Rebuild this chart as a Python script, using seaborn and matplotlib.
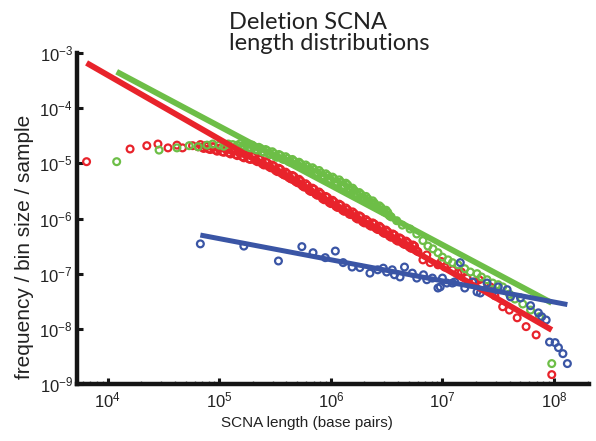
import numpy as np
import pandas as pd
import matplotlib
matplotlib.use("Agg")
import matplotlib.pyplot as plt
from matplotlib import font_manager
from matplotlib.ticker import FixedLocator, LogLocator, NullLocator
import seaborn as sns

# Binned deletion SCNA lengths: log10(length in bp) and log10(frequency / bin size / sample)
red_len_exp = [
    3.81, 4.20, 4.35, 4.45, 4.54, 4.62, 4.67, 4.76, 4.81,
    4.83, 4.845, 4.86, 4.875, 4.89, 4.905, 4.92, 4.935, 4.95, 4.965,
    4.98, 4.995, 5.01, 5.025, 5.04, 5.055, 5.07, 5.085, 5.10, 5.115,
    5.13, 5.145, 5.16, 5.175, 5.19, 5.205, 5.22, 5.235, 5.25, 5.265,
    5.28, 5.295, 5.31, 5.325, 5.34, 5.355, 5.37, 5.385, 5.40, 5.415,
    5.43, 5.445, 5.46, 5.475, 5.49, 5.505, 5.52, 5.535, 5.55, 5.565,
    5.58, 5.595, 5.61, 5.625, 5.64, 5.655, 5.67, 5.685, 5.70, 5.715,
    5.73, 5.745, 5.76, 5.775, 5.79, 5.805, 5.82, 5.835, 5.85, 5.865,
    5.88, 5.895, 5.91, 5.925, 5.94, 5.955, 5.97, 5.985, 6.00, 6.015,
    6.03, 6.045, 6.06, 6.075, 6.09, 6.105, 6.12, 6.135, 6.15, 6.165,
    6.18, 6.195, 6.21, 6.225, 6.24, 6.255, 6.27, 6.285, 6.30, 6.315,
    6.33, 6.345, 6.36, 6.375, 6.39, 6.405, 6.42, 6.435, 6.45, 6.465,
    6.48, 6.495, 6.51, 6.525, 6.54, 6.555, 6.57, 6.585, 6.60, 6.615,
    6.63, 6.645, 6.66, 6.675, 6.69, 6.705, 6.72, 6.735, 6.75, 6.765,
    6.78,
    6.825, 6.86, 6.89, 6.96, 6.99, 7.02, 7.09, 7.14, 7.17, 7.22, 7.29,
    7.33, 7.35, 7.41, 7.43, 7.47, 7.54, 7.60, 7.67, 7.75, 7.84, 7.98,
]
red_freq_exp = [
    -4.97, -4.74, -4.68, -4.65, -4.72, -4.67, -4.72, -4.68, -4.70,
    -4.66, -4.71, -4.73, -4.68, -4.69, -4.74, -4.75, -4.70, -4.70, -4.76,
    -4.78, -4.73, -4.72, -4.79, -4.80, -4.74, -4.75, -4.81, -4.83, -4.77,
    -4.78, -4.84, -4.86, -4.80, -4.81, -4.88, -4.90, -4.84, -4.85, -4.92,
    -4.93, -4.87, -4.88, -4.95, -4.97, -4.91, -4.93, -5.01, -5.03, -4.97,
    -4.99, -5.06, -5.08, -5.03, -5.05, -5.13, -5.15, -5.09, -5.11, -5.19,
    -5.21, -5.16, -5.19, -5.26, -5.28, -5.22, -5.24, -5.33, -5.35, -5.29,
    -5.32, -5.41, -5.43, -5.37, -5.40, -5.49, -5.51, -5.45, -5.47, -5.56,
    -5.58, -5.52, -5.55, -5.64, -5.66, -5.60, -5.62, -5.71, -5.73, -5.67,
    -5.70, -5.78, -5.80, -5.74, -5.76, -5.85, -5.87, -5.81, -5.84, -5.92,
    -5.93, -5.88, -5.91, -5.99, -6.01, -5.95, -5.97, -6.06, -6.08, -6.02,
    -6.05, -6.12, -6.14, -6.08, -6.10, -6.18, -6.20, -6.14, -6.17, -6.25,
    -6.27, -6.21, -6.24, -6.32, -6.34, -6.28, -6.30, -6.39, -6.41, -6.35,
    -6.37, -6.45, -6.47, -6.41, -6.44, -6.52, -6.54, -6.48, -6.50, -6.58,
    -6.60,
    -6.75, -6.66, -6.80, -6.84, -6.78, -6.88, -6.93, -6.99, -6.97, -7.08, -7.15,
    -7.11, -7.20, -7.29, -7.24, -7.40, -7.60, -7.66, -7.80, -7.96, -8.11, -8.83,
]

green_len_exp = [
    4.08, 4.46, 4.62, 4.73, 4.81, 4.89, 4.94, 5.00, 5.04, 5.08, 5.12, 5.16,
    5.19, 5.205, 5.22, 5.235, 5.25, 5.265, 5.28, 5.295, 5.31, 5.325,
    5.34, 5.355, 5.37, 5.385, 5.40, 5.415, 5.43, 5.445, 5.46, 5.475,
    5.49, 5.505, 5.52, 5.535, 5.55, 5.565, 5.58, 5.595, 5.61, 5.625,
    5.64, 5.655, 5.67, 5.685, 5.70, 5.715, 5.73, 5.745, 5.76, 5.775,
    5.79, 5.805, 5.82, 5.835, 5.85, 5.865, 5.88, 5.895, 5.91, 5.925,
    5.94, 5.955, 5.97, 5.985, 6.00, 6.015, 6.03, 6.045, 6.06, 6.075,
    6.09, 6.105, 6.12, 6.135, 6.15, 6.165, 6.18, 6.195, 6.21, 6.225,
    6.24, 6.255, 6.27, 6.285, 6.30, 6.315, 6.33, 6.345, 6.36, 6.375,
    6.39, 6.405, 6.42, 6.435, 6.45, 6.465, 6.48, 6.495, 6.51, 6.525,
    6.54, 6.59, 6.64, 6.71, 6.77,
    6.825, 6.87, 6.915, 6.96, 7.00, 7.05, 7.09, 7.14, 7.20, 7.25, 7.31,
    7.35, 7.40, 7.45, 7.50, 7.54, 7.60, 7.65, 7.72, 7.79, 7.87, 7.98,
]
green_freq_exp = [
    -4.97, -4.76, -4.72, -4.68, -4.70, -4.67, -4.65, -4.67, -4.69, -4.65, -4.66, -4.67,
    -4.64, -4.68, -4.70, -4.65, -4.66, -4.71, -4.72, -4.67, -4.70, -4.75,
    -4.76, -4.71, -4.73, -4.79, -4.80, -4.75, -4.77, -4.83, -4.84, -4.79,
    -4.82, -4.88, -4.89, -4.84, -4.86, -4.92, -4.93, -4.88, -4.91, -4.97,
    -4.98, -4.93, -4.96, -5.02, -5.03, -4.98, -5.01, -5.07, -5.08, -5.03,
    -5.06, -5.12, -5.13, -5.08, -5.11, -5.17, -5.18, -5.13, -5.17, -5.23,
    -5.24, -5.19, -5.22, -5.29, -5.30, -5.25, -5.28, -5.34, -5.35, -5.30,
    -5.34, -5.40, -5.41, -5.36, -5.39, -5.46, -5.49, -5.45, -5.49, -5.55,
    -5.57, -5.53, -5.56, -5.62, -5.64, -5.60, -5.64, -5.70, -5.71, -5.68,
    -5.72, -5.78, -5.80, -5.77, -5.80, -5.86, -5.88, -5.85, -5.89, -5.95,
    -5.97, -6.04, -6.12, -6.19, -6.28,
    -6.40, -6.50, -6.55, -6.62, -6.70, -6.75, -6.80, -6.84, -6.91, -6.97, -7.00,
    -7.06, -7.11, -7.17, -7.20, -7.24, -7.37, -7.46, -7.55, -7.66, -7.78, -8.63,
]

blue_len_exp = [
    4.83, 5.22, 5.53, 5.74, 5.84, 5.95, 6.04, 6.11, 6.19, 6.26, 6.35,
    6.42, 6.47, 6.50, 6.55, 6.57, 6.62, 6.66, 6.73, 6.77, 6.83, 6.86,
    6.91, 6.96, 6.98, 7.00, 7.04, 7.09, 7.11, 7.16, 7.20, 7.27, 7.31,
    7.34, 7.40, 7.45, 7.50, 7.58, 7.61, 7.70, 7.79, 7.86, 7.89, 7.93,
    7.96, 8.01, 8.04, 8.08, 8.12,
]
blue_freq_exp = [
    -6.46, -6.50, -6.77, -6.51, -6.62, -6.71, -6.59, -6.80, -6.88, -6.89, -6.99,
    -6.93, -6.90, -6.97, -6.93, -7.02, -7.06, -6.88, -6.99, -7.08, -7.02, -7.11,
    -7.08, -7.26, -7.24, -7.08, -7.17, -7.17, -7.15, -6.80, -7.26, -7.15, -7.33,
    -7.35, -7.17, -7.33, -7.24, -7.29, -7.42, -7.44, -7.58, -7.71, -7.78, -7.84,
    -8.24, -8.25, -8.34, -8.45, -8.63,
]

# Power-law fits, given by their end points (log10 values)
red_fit_len_exp = [3.81, 7.98]
red_fit_freq_exp = [-3.18, -8.02]
green_fit_len_exp = [4.08, 7.98]
green_fit_freq_exp = [-3.34, -7.53]
blue_fit_len_exp = [4.83, 8.12]
blue_fit_freq_exp = [-6.30, -7.56]

x_tick_exp = [4, 5, 6, 7, 8]
y_tick_exp = [-9, -8, -7, -6, -5, -4, -3]

RED = "#E8232B"
GREEN = "#6DBE47"
BLUE = "#3A55A5"

series = [
    (red_len_exp, red_freq_exp, RED),
    (green_len_exp, green_freq_exp, GREEN),
    (blue_len_exp, blue_freq_exp, BLUE),
]
fits = [
    (red_fit_len_exp, red_fit_freq_exp, RED, 4.2),
    (green_fit_len_exp, green_fit_freq_exp, GREEN, 4.2),
    (blue_fit_len_exp, blue_fit_freq_exp, BLUE, 3.6),
]
for lx, ly, _ in series:
    assert len(lx) == len(ly)

sns.set_theme(style="white")
plt.rcParams["font.family"] = ["Liberation Sans", "DejaVu Sans"]
plt.rcParams["mathtext.fontset"] = "custom"
plt.rcParams["mathtext.rm"] = "Liberation Sans"
plt.rcParams["mathtext.it"] = "Liberation Sans:italic"
plt.rcParams["mathtext.bf"] = "Liberation Sans:bold"
plt.rcParams["mathtext.default"] = "rm"

fig = plt.figure(figsize=(5.96, 4.41), dpi=100)
ax = fig.add_axes([77 / 596, 1 - 384 / 441, (589 - 77) / 596, (384 - 53) / 441])
ax.set_xscale("log")
ax.set_yscale("log")

for lx, ly, col in series:
    df = pd.DataFrame({"length": np.power(10.0, lx), "freq": np.power(10.0, ly)})
    sns.scatterplot(data=df, x="length", y="freq", ax=ax, marker="o", s=24,
                    facecolor="none", edgecolor=col, linewidth=1.6, zorder=2)

for lx, ly, col, lw in fits:
    df = pd.DataFrame({"length": np.power(10.0, lx), "freq": np.power(10.0, ly)})
    sns.lineplot(data=df, x="length", y="freq", ax=ax, color=col, linewidth=lw,
                 solid_capstyle="butt", zorder=3)

ax.set_xlim(5.3e3, 2.06e8)
ax.set_ylim(1e-9, 1e-3)

ax.xaxis.set_major_locator(FixedLocator(np.power(10.0, x_tick_exp)))
ax.xaxis.set_minor_locator(LogLocator(base=10, subs=np.arange(2, 10), numticks=40))
ax.yaxis.set_major_locator(FixedLocator(np.power(10.0, y_tick_exp)))
ax.yaxis.set_minor_locator(NullLocator())

for side in ("top", "right"):
    ax.spines[side].set_visible(False)
for side in ("left", "bottom"):
    ax.spines[side].set_linewidth(3.2)
    ax.spines[side].set_color("#151515")

ax.tick_params(axis="both", which="major", direction="in", length=4, width=2.2,
               color="#151515", labelsize=12, labelcolor="#222222",
               bottom=True, left=True)
ax.tick_params(axis="x", which="major", pad=5)
ax.tick_params(axis="y", which="major", pad=3)
ax.tick_params(axis="x", which="minor", direction="in", length=2, width=1,
               color="#666666", bottom=True)

ax.set_xlabel("SCNA length (base pairs)", fontsize=11, color="#222222")
ax.xaxis.set_label_coords(0.449, -0.097)
ax.xaxis.label.set_va("top")
ax.set_ylabel("frequency / bin size / sample", fontsize=15, color="#222222")
ax.yaxis.set_label_coords(-0.084, 0.415)

names = {f.name for f in font_manager.fontManager.ttflist}
title_family = "Lato" if "Lato" in names else "Liberation Sans"
fig.text(229 / 596, 1 - 12 / 441, "Deletion SCNA\nlength distributions",
         ha="left", va="top", fontsize=17, family=title_family,
         color="#222222", linespacing=1.0)

fig.savefig("out.png", dpi=100)
